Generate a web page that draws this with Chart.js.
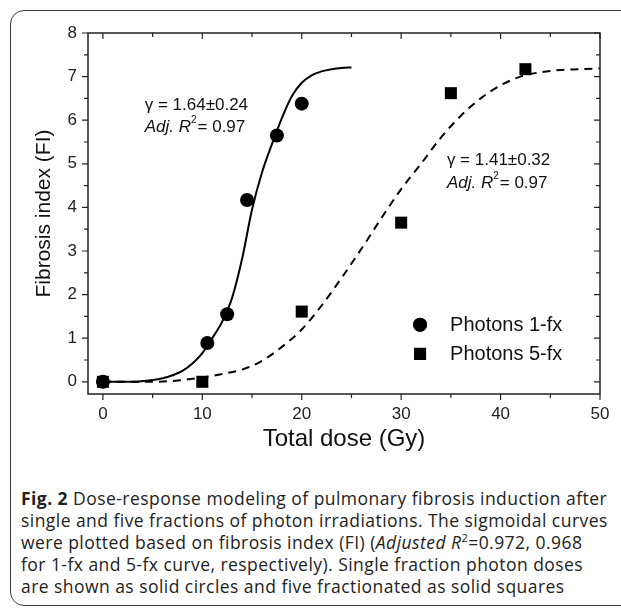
<!DOCTYPE html>
<html>
<head>
<meta charset="utf-8">
<script src="https://cdn.jsdelivr.net/npm/chart.js@4.4.1/dist/chart.umd.min.js"></script>
<style>
  html, body { margin: 0; padding: 0; background: #fff; }
  body { width: 621px; height: 609px; position: relative; overflow: hidden; }
  #frame { position: absolute; left: 10px; top: 10px; width: 720px; height: 594px; border: 1.5px solid #3a3a3a; border-radius: 14px; }
  #wrap { position: absolute; left: 0; top: 0; width: 621px; height: 460px; }
  #caption { position: absolute; left: 21px; top: 487px; font-family: 'Open Sans', sans-serif; font-size: 17.5px; line-height: 22px; color: #222; white-space: nowrap; letter-spacing: 0.45px; }
  #caption sup { font-size: 11px; line-height: 0; }
</style>
</head>
<body>
<div id="frame"></div>
<div id="wrap"><canvas id="doseChart" width="621" height="460"></canvas></div>
<div id="caption">
  <b>Fig. 2</b> Dose-response modeling of pulmonary fibrosis induction after<br>
  single and five fractions of photon irradiations. The sigmoidal curves<br>
  were plotted based on fibrosis index (FI) (<i>Adjusted R</i><sup>2</sup>=0.972, 0.968<br>
  for 1-fx and 5-fx curve, respectively). Single fraction photon doses<br>
  are shown as solid circles and five fractionated as solid squares
</div>
<script>
// measured points
const doseSingle = [0, 10.5, 12.5, 14.5, 17.5, 20];
const fiSingle = [0, 0.89, 1.55, 4.17, 5.65, 6.38];
const doseFive = [0, 10, 20, 30, 35, 42.5];
const fiFive = [0, 0, 1.61, 3.65, 6.62, 7.17];

// fitted sigmoid curves
const fitSingleDose = [0, 3, 5, 6, 7, 8, 9, 10, 11, 12, 13, 14, 15, 16, 17, 18, 19, 20, 21, 22, 23, 24, 25];
const fitSingleFI = [0, 0, 0.04, 0.08, 0.15, 0.25, 0.42, 0.66, 1.0, 1.38, 1.93, 2.82, 3.95, 4.8, 5.45, 6.05, 6.55, 6.86, 7.03, 7.12, 7.17, 7.2, 7.21];
const fitFiveDose = [0, 5, 8, 10, 12, 14, 16, 18, 20, 22, 24, 26, 28, 30, 32, 34, 36, 38, 40, 42, 44, 46, 48, 50];
const fitFiveFI = [0, 0, 0.04, 0.1, 0.18, 0.28, 0.48, 0.8, 1.2, 1.75, 2.38, 3.05, 3.75, 4.42, 5.0, 5.6, 6.1, 6.5, 6.8, 7.0, 7.1, 7.15, 7.17, 7.19];

const xTicks = [0, 5, 10, 15, 20, 25, 30, 35, 40, 45, 50];
const yTicks = [0, 0.5, 1, 1.5, 2, 2.5, 3, 3.5, 4, 4.5, 5, 5.5, 6, 6.5, 7, 7.5, 8];

const tickFont = { family: 'Liberation Sans', size: 17 };

function toPoints(xs, ys) {
    return xs.map((x, i) => ({ x: x, y: ys[i] }));
}

// frame, ticks, annotations and legend
const decorations = {
    id: 'decorations',
    afterDraw(chart) {
        const { ctx, chartArea: a, scales: { x, y } } = chart;
        ctx.save();
        ctx.strokeStyle = '#222';
        ctx.lineWidth = 1.5;
        ctx.strokeRect(a.left, a.top, a.right - a.left, a.bottom - a.top);

        ctx.lineWidth = 1.2;
        ctx.beginPath();
        x.ticks.forEach(t => {
            const px = x.getPixelForValue(t.value);
            const len = t.value % 10 === 0 ? 6 : 4;
            ctx.moveTo(px, a.bottom); ctx.lineTo(px, a.bottom + len);
            ctx.moveTo(px, a.top); ctx.lineTo(px, a.top + len);
        });
        y.ticks.forEach(t => {
            const py = y.getPixelForValue(t.value);
            const len = Number.isInteger(t.value) ? 6 : 4;
            ctx.moveTo(a.left, py); ctx.lineTo(a.left - len, py);
            ctx.moveTo(a.right, py); ctx.lineTo(a.right - len, py);
        });
        ctx.stroke();

        // fit annotations
        ctx.fillStyle = '#111';
        ctx.textBaseline = 'middle';
        ctx.textAlign = 'left';
        function fitLabel(gamma, dx, dy1, dy2) {
            const px = x.getPixelForValue(dx);
            ctx.font = '17px "Liberation Sans"';
            ctx.fillText('\u03b3 = ' + gamma, px, y.getPixelForValue(dy1));
            const py = y.getPixelForValue(dy2);
            ctx.font = 'italic 17px "Liberation Sans"';
            ctx.fillText('Adj. R', px, py);
            let w = ctx.measureText('Adj. R').width;
            ctx.font = '10px "Liberation Sans"';
            ctx.fillText('2', px + w, py - 7);
            w += ctx.measureText('2').width;
            ctx.font = '17px "Liberation Sans"';
            ctx.fillText('= 0.97', px + w + 1, py);
        }
        fitLabel('1.64\u00b10.24', 4.2, 6.33, 5.83);
        fitLabel('1.41\u00b10.32', 34.6, 5.09, 4.56);

        // legend
        const items = [
            { label: 'Photons 1-fx', style: 'circle', radius: 7, ly: 1.31 },
            { label: 'Photons 5-fx', style: 'rect', radius: 8.5, ly: 0.64 }
        ];
        const lx = x.getPixelForValue(31.9);
        ctx.font = '20px "Liberation Sans"';
        items.forEach(it => {
            const py = y.getPixelForValue(it.ly);
            ctx.fillStyle = '#000';
            Chart.helpers.drawPoint(ctx, { pointStyle: it.style, radius: it.radius, borderWidth: 0, rotation: 0 }, lx, py);
            ctx.fill();
            ctx.fillStyle = '#111';
            ctx.fillText(it.label, lx + 30, py + 1);
        });
        ctx.restore();
    }
};

const ctx = document.getElementById('doseChart').getContext('2d');
new Chart(ctx, {
    type: 'scatter',
    data: {
        datasets: [{
            label: 'Photons 1-fx',
            data: toPoints(doseSingle, fiSingle),
            pointStyle: 'circle',
            pointRadius: 7,
            backgroundColor: '#000',
            borderColor: '#000',
            borderWidth: 0,
            order: 1
        }, {
            label: 'Photons 5-fx',
            data: toPoints(doseFive, fiFive),
            pointStyle: 'rect',
            pointRadius: 8.5,
            backgroundColor: '#000',
            borderColor: '#000',
            borderWidth: 0,
            order: 1
        }, {
            label: 'Fit 1-fx',
            type: 'line',
            data: toPoints(fitSingleDose, fitSingleFI),
            borderColor: '#000',
            borderWidth: 2,
            pointRadius: 0,
            cubicInterpolationMode: 'monotone',
            fill: false,
            order: 2
        }, {
            label: 'Fit 5-fx',
            type: 'line',
            data: toPoints(fitFiveDose, fitFiveFI),
            borderColor: '#000',
            borderWidth: 2,
            borderDash: [8, 6],
            pointRadius: 0,
            cubicInterpolationMode: 'monotone',
            fill: false,
            order: 2
        }]
    },
    options: {
        responsive: false,
        animation: false,
        layout: { padding: { top: 33, right: 21, left: 0, bottom: 0 } },
        plugins: {
            legend: { display: false },
            tooltip: { enabled: false }
        },
        scales: {
            x: {
                type: 'linear',
                min: -1.5,
                max: 50,
                afterBuildTicks: scale => { scale.ticks = xTicks.map(v => ({ value: v })); },
                afterFit: scale => { scale.height = 66; },
                grid: { display: false, drawTicks: false },
                border: { display: false },
                ticks: {
                    font: tickFont,
                    color: '#222',
                    padding: 10,
                    maxRotation: 0,
                    autoSkip: false,
                    callback: v => (v % 10 === 0 ? v : '')
                },
                title: {
                    display: true,
                    text: 'Total dose (Gy)',
                    font: { family: 'Liberation Sans', size: 24 },
                    color: '#111',
                    padding: { top: 0, bottom: 6 }
                }
            },
            y: {
                type: 'linear',
                min: -0.28,
                max: 8,
                afterBuildTicks: scale => { scale.ticks = yTicks.map(v => ({ value: v })); },
                afterFit: scale => { scale.width = 88; },
                grid: { display: false, drawTicks: false },
                border: { display: false },
                ticks: {
                    font: tickFont,
                    color: '#222',
                    padding: 11,
                    autoSkip: false,
                    callback: v => (Number.isInteger(v) ? v : '')
                },
                title: {
                    display: true,
                    text: 'Fibrosis index (FI)',
                    font: { family: 'Liberation Sans', size: 21 },
                    color: '#111',
                    padding: { top: 32, bottom: 0 }
                }
            }
        }
    },
    plugins: [decorations]
});
</script>
</body>
</html>
